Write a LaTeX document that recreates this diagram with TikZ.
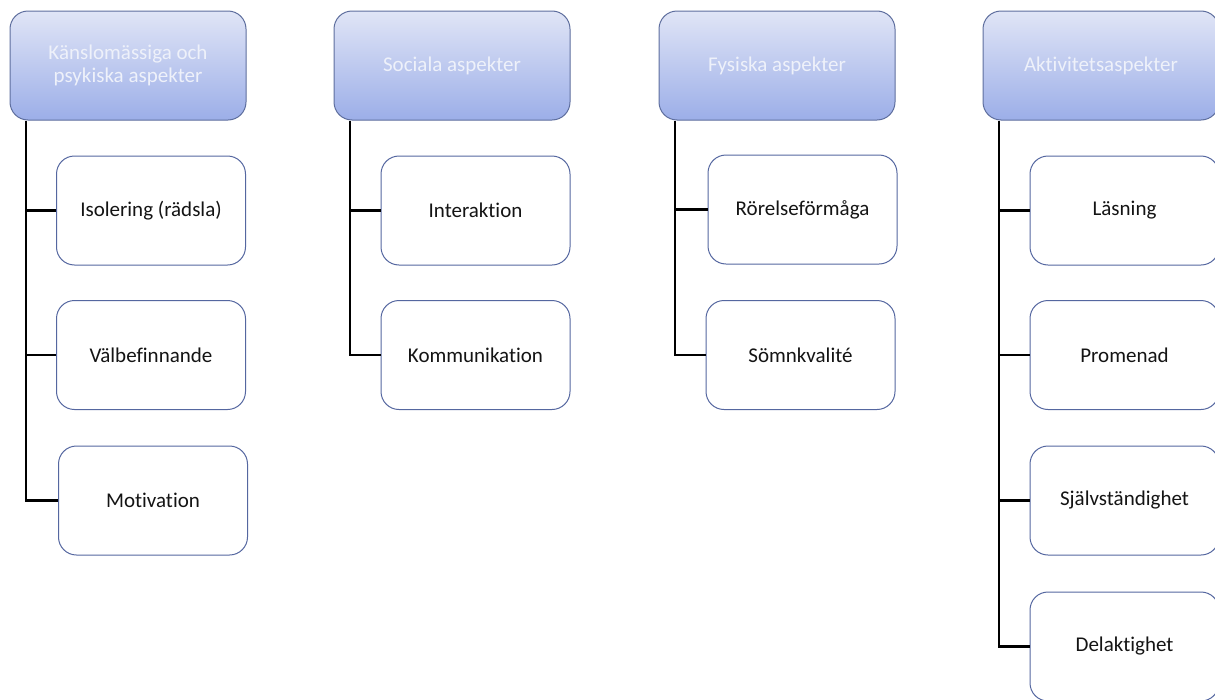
\documentclass[tikz,border=0pt]{standalone}
\usepackage{fontspec}
\setmainfont[Ligatures=NoCommon]{Carlito}
\usetikzlibrary{positioning}
\begin{document}
\begin{tikzpicture}[x=1pt,y=-1pt,
  head/.style={draw=headborder, line width=1pt, rounded corners=18pt, top color=headtop, bottom color=headbot, minimum width=236pt, minimum height=109pt, text=headtext, font=\fontsize{21}{22.5}\selectfont, align=center, inner sep=0pt},
  leaf/.style={draw=leafborder, line width=1pt, rounded corners=18pt, fill=white, minimum width=189pt, minimum height=109pt, text=leaftext, font=\fontsize{21}{22.5}\selectfont, align=center, inner sep=0pt},
  link/.style={line width=2.5pt, black}]
\definecolor{headborder}{HTML}{5E6E9E}
\definecolor{headtop}{HTML}{E0E5F6}
\definecolor{headbot}{HTML}{9CAEE8}
\definecolor{headtext}{HTML}{EEF1FA}
\definecolor{leafborder}{HTML}{5567A0}
\definecolor{leaftext}{HTML}{141414}
\useasboundingbox (0,0) rectangle (1215,699);
\begin{scope}
\clip (0,0) rectangle (1215,699);
% headers
\node[head] (h1) at (128,65.5) {Känslomässiga och\\psykiska aspekter};
\node[head] (h2) at (452,65.5) {Sociala aspekter};
\node[head] (h3) at (777,65.5) {Fysiska aspekter};
\node[head] (h4) at (1101,65.5) {Aktivitetsaspekter};
% column 1
\node[leaf] (a1) at (151,210.5) {Isolering (rädsla)};
\node[leaf] (a2) at (151,355) {Välbefinnande};
\node[leaf] (a3) at (153,500.5) {Motivation};
% column 2
\node[leaf] (b1) at (475.5,210.5) {Interaktion};
\node[leaf] (b2) at (475.5,355) {Kommunikation};
% column 3
\node[leaf] (c1) at (802.5,209.5) {Rörelseförmåga};
\node[leaf] (c2) at (800.5,355) {Sömnkvalité};
% column 4
\node[leaf] (d1) at (1124.5,210.5) {Läsning};
\node[leaf] (d2) at (1124.5,355) {Promenad};
\node[leaf] (d3) at (1124.5,500.5) {Självständighet};
\node[leaf] (d4) at (1124.5,646.5) {Delaktighet};
% connectors
\coordinate (t1) at (26,0);
\coordinate (t2) at (350,0);
\coordinate (t3) at (675,0);
\coordinate (t4) at (999,0);
\draw[link] (t1 |- h1.south) -- (t1 |- a3.west) -- (a3.west);
\draw[link] (t1 |- a1.west) -- (a1.west);
\draw[link] (t1 |- a2.west) -- (a2.west);
\draw[link] (t2 |- h2.south) -- (t2 |- b2.west) -- (b2.west);
\draw[link] (t2 |- b1.west) -- (b1.west);
\draw[link] (t3 |- h3.south) -- (t3 |- c2.west) -- (c2.west);
\draw[link] (t3 |- c1.west) -- (c1.west);
\draw[link] (t4 |- h4.south) -- (t4 |- d4.west) -- (d4.west);
\draw[link] (t4 |- d1.west) -- (d1.west);
\draw[link] (t4 |- d2.west) -- (d2.west);
\draw[link] (t4 |- d3.west) -- (d3.west);
\end{scope}
\end{tikzpicture}
\end{document}
